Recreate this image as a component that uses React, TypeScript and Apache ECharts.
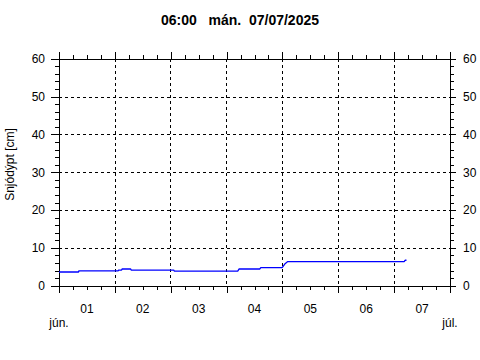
import React, { useEffect, useRef } from "react";
import * as echarts from "echarts";

const TITLE = "06:00   mán.  07/07/2025";
const Y_NAME = "Snjódýpt [cm]";
const DAY_LABELS = ["01", "02", "03", "04", "05", "06", "07"];
const MONTH_START = "jún.";
const MONTH_END = "júl.";
// hours since start of the first day
const HOURS = [0, 8.4, 8.5, 25.4, 25.6, 26.9, 27.1, 30.8, 31.0, 49.3, 49.5, 76.8, 77.4, 86.3, 86.7, 95.9, 97.0, 98.3, 148.3, 148.7, 149.3];
const DEPTH = [3.7, 3.7, 4.0, 4.0, 4.2, 4.2, 4.5, 4.5, 4.2, 4.2, 3.95, 3.95, 4.5, 4.5, 4.85, 4.85, 5.8, 6.45, 6.45, 6.8, 6.8];
// time-axis tick positions (hours), every 6 h; whole days get the longer tick
const TICK_HOURS = [0, 6, 12, 18, 24, 30, 36, 42, 48, 54, 60, 66, 72, 78, 84, 90, 96, 102, 108, 114, 120, 126, 132, 138, 144, 150, 156, 162, 168];
const Y_MIN = 0;
const Y_MAX = 60;
const X_MAX = 168;
const DAY_HOURS = 24;

const FONT = "Liberation Sans";

export default function App() {
  const ref = useRef<HTMLDivElement>(null);
  useEffect(() => {
    if (!ref.current) return;
    const chart = echarts.init(ref.current, null, { renderer: "svg" });
    const black = "#000";
    const split = { show: true, lineStyle: { color: black, width: 1, type: [3, 3] as any } };
    chart.setOption({
      animation: false,
      backgroundColor: "#fff",
      title: {
        text: TITLE,
        left: "center",
        top: 8,
        textStyle: { fontFamily: FONT, fontSize: 14, fontWeight: "bold", color: black },
      },
      grid: { left: 59, right: 30, top: 59, bottom: 74, containLabel: false, outerBoundsMode: "none" },
      xAxis: [
        {
          type: "value",
          position: "bottom",
          min: 0,
          max: X_MAX,
          interval: DAY_HOURS,
          axisLine: { show: true, onZero: false, lineStyle: { color: black, width: 1 } },
          axisTick: { show: false },
          splitLine: split,
          axisLabel: {
            show: true,
            margin: 31,
            fontFamily: FONT,
            fontSize: 12,
            color: black,
            formatter: (v: number) => (v === 0 ? MONTH_START : v === X_MAX ? MONTH_END : ""),
          },
        },
        {
          type: "value",
          position: "top",
          min: 0,
          max: X_MAX,
          interval: DAY_HOURS,
          axisLine: { show: true, onZero: false, lineStyle: { color: black, width: 1 } },
          axisTick: { show: false },
          splitLine: { show: false },
          axisLabel: { show: false },
        },
        {
          type: "category",
          position: "bottom",
          data: DAY_LABELS,
          boundaryGap: true,
          axisLine: { show: false, onZero: false },
          axisTick: { show: false },
          splitLine: { show: false },
          axisLabel: { margin: 17, fontFamily: FONT, fontSize: 12, color: black },
        },
      ],
      yAxis: [
        {
          type: "value",
          position: "left",
          min: Y_MIN,
          max: Y_MAX,
          interval: 10,
          name: Y_NAME,
          nameLocation: "middle",
          nameGap: 43,
          nameTextStyle: { fontFamily: FONT, fontSize: 12, color: black, padding: [0, 0, 0, 16] },
          axisLine: { show: true, onZero: false, lineStyle: { color: black, width: 1 } },
          axisTick: { show: true, length: 8, lineStyle: { color: black, width: 1 } },
          minorTick: { show: true, splitNumber: 5, length: 4, lineStyle: { color: black, width: 1 } },
          splitLine: split,
          axisLabel: { margin: 14, fontFamily: FONT, fontSize: 12, color: black },
        },
        {
          type: "value",
          position: "right",
          min: Y_MIN,
          max: Y_MAX,
          interval: 10,
          axisLine: { show: true, onZero: false, lineStyle: { color: black, width: 1 } },
          axisTick: { show: true, length: 6, lineStyle: { color: black, width: 1 } },
          minorTick: { show: true, splitNumber: 5, length: 4, lineStyle: { color: black, width: 1 } },
          splitLine: { show: false },
          axisLabel: { margin: 13, fontFamily: FONT, fontSize: 12, color: black },
        },
      ],
      series: [
        {
          type: "line",
          xAxisIndex: 0,
          yAxisIndex: 0,
          data: HOURS.map((h, i) => [h, DEPTH[i]]),
          showSymbol: false,
          symbol: "none",
          lineStyle: { color: "#0000ff", width: 1.3 },
        },
      ],
    });

    // time-axis ticks, placed through the chart's own x/y scales
    try {
      const yb = Math.round(chart.convertToPixel({ yAxisIndex: 0 }, Y_MIN) as number);
      const yt = Math.round(chart.convertToPixel({ yAxisIndex: 0 }, Y_MAX) as number);
      const style = { stroke: black, lineWidth: 1 };
      const elements: any[] = [];
      TICK_HOURS.forEach((h) => {
        const px = chart.convertToPixel({ xAxisIndex: 0 }, h) as number;
        if (typeof px !== "number" || isNaN(px)) return;
        const x = Math.round(px) + 0.5;
        const len = h % DAY_HOURS === 0 ? 7 : 4;
        elements.push({ type: "line", silent: true, shape: { x1: x, y1: yb, x2: x, y2: yb + len }, style });
        elements.push({ type: "line", silent: true, shape: { x1: x, y1: yt, x2: x, y2: yt - len }, style });
      });
      chart.setOption({ graphic: elements });
    } catch (e) {
      // leave chart without extra ticks
    }
    return () => chart.dispose();
  }, []);
  return <div ref={ref} style={{ width: 480, height: 360, position: "absolute", left: 0, top: 0 }} />;
}
